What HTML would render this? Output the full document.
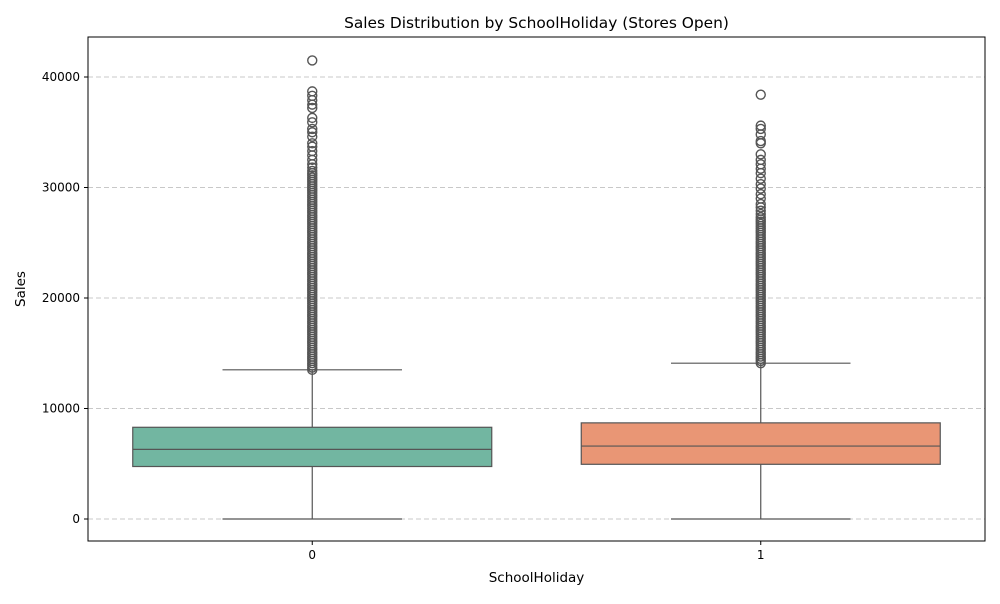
<!DOCTYPE html>
<html><head><meta charset="utf-8"><style>
body{margin:0;background:#fff;font-family:"DejaVu Sans","Liberation Sans",sans-serif}
svg text{font-family:"DejaVu Sans","Liberation Sans",sans-serif;fill:#000}
</style></head><body>
<svg id="c" width="1000" height="600" xmlns="http://www.w3.org/2000/svg"></svg>
<script>
const categories=["0","1"];
const q1=[4750,4950];
const medians=[6300,6600];
const q3=[8300,8700];
const whiskerLow=[0,0];
const whiskerHigh=[13500,14100];
const colors=["#72b6a1","#e99675"];
const yTicks=[0,10000,20000,30000,40000];
const outliers0=[13500,13700,13900,14100,14300,14500,14700,14900,15100,15300,15500,15700,15900,16100,16300,16500,16700,16900,17100,17300,17500,17700,17900,18100,18300,18500,18700,18900,19100,19300,19500,19700,19900,20100,20300,20500,20700,20900,21100,21300,21500,21700,21900,22100,22300,22500,22700,22900,23100,23300,23500,23700,23900,24100,24300,24500,24700,24900,25100,25300,25500,25700,25900,26100,26300,26500,26700,26900,27100,27300,27500,27700,27900,28100,28300,28500,28700,28900,29100,29300,29500,29700,29900,30100,30300,30500,30700,30900,31100,31300,31500,31800,32100,32500,32900,33300,33700,34000,34600,35000,35300,35900,36300,37200,37500,37900,38300,38700,41500];
const outliers1=[14100,14300,14500,14700,14900,15100,15300,15500,15700,15900,16100,16300,16500,16700,16900,17100,17300,17500,17700,17900,18100,18300,18500,18700,18900,19100,19300,19500,19700,19900,20100,20300,20500,20700,20900,21100,21300,21500,21700,21900,22100,22300,22500,22700,22900,23100,23300,23500,23700,23900,24100,24300,24500,24700,24900,25100,25300,25500,25700,25900,26100,26300,26500,26700,26900,27100,27300,27600,27900,28200,28500,29000,29400,29900,30300,30800,31300,31700,32100,32500,33000,34000,34200,34800,35300,35600,38400];
const outliers=[outliers0,outliers1];
const svg=document.getElementById('c');
const NS='http://www.w3.org/2000/svg';
const L=88,R=985,T=37,B=541;
const y=v=>519-v*(442/40000);
const xc=i=>L+(R-L)*(i+0.5)/2;
const bw=359;
function mk(t,a){const e=document.createElementNS(NS,t);for(const k in a)e.setAttribute(k,a[k]);svg.appendChild(e);return e;}
yTicks.forEach(v=>{
 const g=mk('line',{x1:L,x2:R,y1:y(v),y2:y(v),stroke:'#c8c8c8','stroke-dasharray':'5,3','stroke-width':1});
 
 
 const tk=mk('line',{x1:L-4,x2:L,y1:y(v),y2:y(v),stroke:'#000'});
 
 
 const t=mk('text',{x:L-8,y:y(v)+4,'text-anchor':'end','font-size':12});t.textContent=v;
 
 
});
categories.forEach((c,i)=>{
 const x=xc(i);
 const w1=mk('line',{x1:x,x2:x,y1:y(whiskerLow[i]),y2:y(q1[i]),stroke:'#555','stroke-width':1.2});
 
 
 const w2=mk('line',{x1:x,x2:x,y1:y(q3[i]),y2:y(whiskerHigh[i]),stroke:'#555','stroke-width':1.2});
 
 
 [whiskerLow[i],whiskerHigh[i]].forEach(v=>{
  const cap=mk('line',{x1:x-bw/4,x2:x+bw/4,y1:y(v),y2:y(v),stroke:'#555','stroke-width':1.2});
  
  
 });
 const b=mk('rect',{x:x-bw/2,y:y(q3[i]),width:bw,height:y(q1[i])-y(q3[i]),fill:colors[i],stroke:'#555','stroke-width':1.2});
 
 
 const m=mk('line',{x1:x-bw/2,x2:x+bw/2,y1:y(medians[i]),y2:y(medians[i]),stroke:'#555','stroke-width':1.2});
 
 
 outliers[i].forEach(v=>{
  const o=mk('circle',{cx:x,cy:y(v),r:4.5,fill:'none',stroke:'#555','stroke-width':1.4});
  
  
 });
 const tk=mk('line',{x1:x,x2:x,y1:B,y2:B+4,stroke:'#000'});
 
 
 const t=mk('text',{x:x,y:B+18,'text-anchor':'middle','font-size':12});t.textContent=c;
 
 
});
const fr=mk('rect',{x:L,y:T,width:R-L,height:B-T,fill:'none',stroke:'#000','stroke-width':1});


const ti=mk('text',{x:(L+R)/2,y:28,'text-anchor':'middle','font-size':15.4});ti.textContent='Sales Distribution by SchoolHoliday (Stores Open)';


const xt=mk('text',{x:(L+R)/2,y:582,'text-anchor':'middle','font-size':13.5});xt.textContent='SchoolHoliday';


const yt=mk('text',{x:25,y:289,'text-anchor':'middle','font-size':13.5,transform:'rotate(-90 25 289)'});yt.textContent='Sales';


</script>
</body></html>
